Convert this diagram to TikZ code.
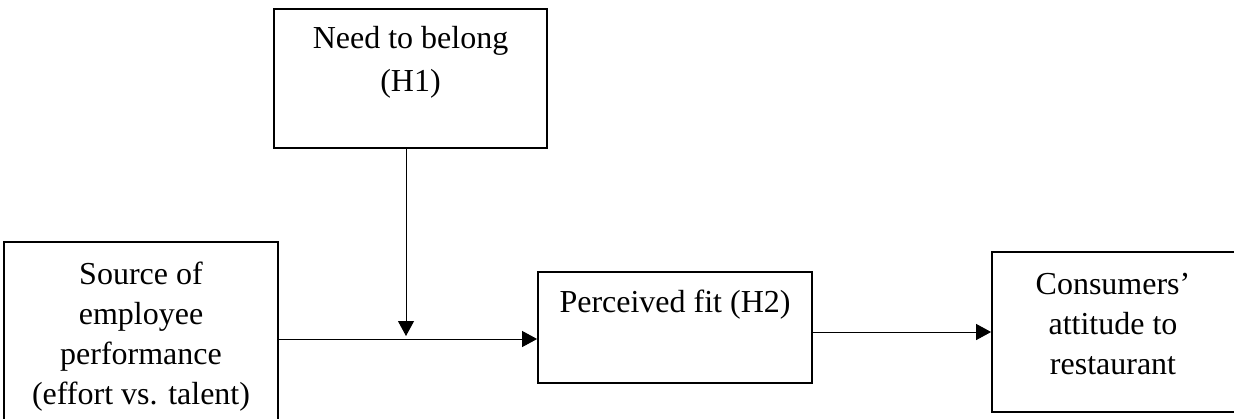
\documentclass[tikz,border=0pt]{standalone}
\usepackage{fontspec}
\setmainfont{Liberation Serif}
\usetikzlibrary{arrows.meta,positioning}
\begin{document}
\begin{tikzpicture}[x=0.5pt, y=-0.5pt,
    box/.style={shape=rectangle,draw=black,line width=0.9pt,inner sep=0pt},
    txt/.style={inner sep=0pt,align=center,font=\fontsize{16pt}{20pt}\selectfont},
    arr/.style={draw=black,line width=0.5pt,-{Triangle[length=7.5pt,width=8pt]}}]
    \useasboundingbox (0,0) rectangle (1234,418);

    \node[box,minimum width=136.5pt,minimum height=69.5pt] (need) at (410.5,78.5) {};
    \node[box,minimum width=137pt,minimum height=97pt] (source) at (141,339) {};
    \node[box,minimum width=137pt,minimum height=55.5pt] (fit) at (675,327.5) {};
    \node[box,minimum width=124pt,minimum height=80pt] (cons) at (1116,332) {};

    \node[txt,below=9pt of need.north,font=\fontsize{16pt}{21.5pt}\selectfont] (needtxt) {Need to belong\\(H1)};
    \node[txt,below=10pt of source.north] (sourcetxt) {Source of\\employee\\performance\\(effort vs. talent)};
    \node[txt,below=9pt of fit.north] (fittxt) {Perceived fit (H2)};
    \node[txt,below=11pt of cons.north,xshift=-1.5pt] (constxt) {Consumers’\\attitude to\\restaurant};

    \coordinate (join) at (406,339);   % where the moderator meets the main path

    \draw[arr] (need.south -| join) -- ([yshift=1.5pt]join);
    \draw[arr] (source.east |- join) -- (fit.west |- join);
    \draw[arr] (fit.east |- cons.west) -- (cons.west);
\end{tikzpicture}
\end{document}
